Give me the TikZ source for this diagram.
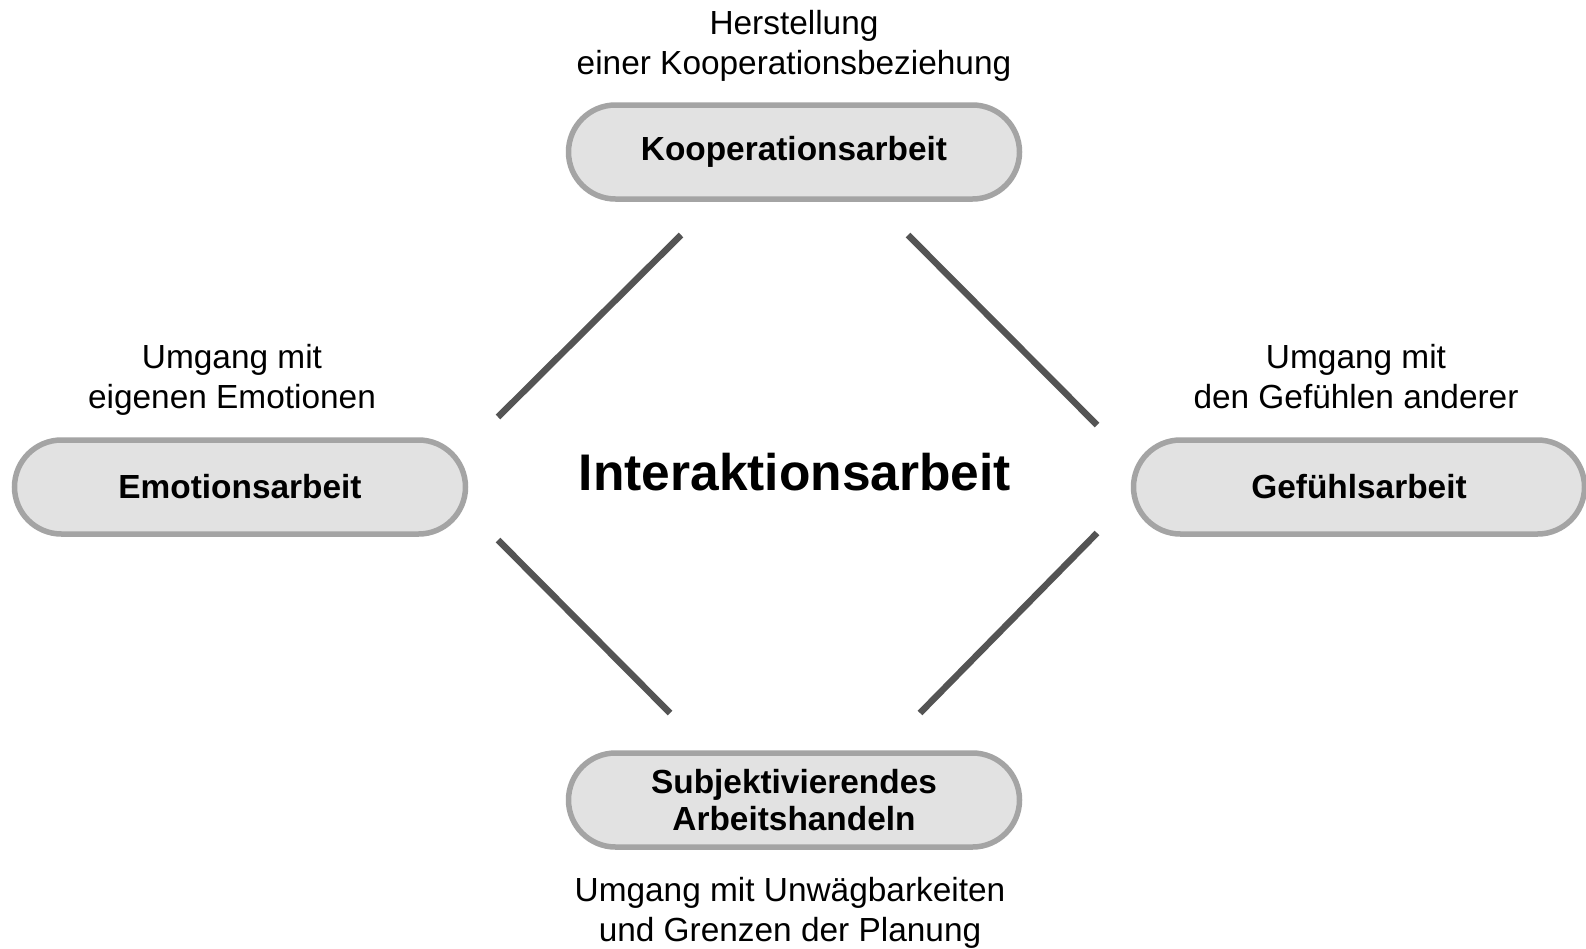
\documentclass[tikz,border=0pt]{standalone}
\usepackage{fontspec}
\setmainfont{Liberation Sans}
\usetikzlibrary{shapes.misc}
\definecolor{pillfill}{HTML}{E2E2E2}
\definecolor{pillline}{HTML}{A4A4A4}
\definecolor{linegray}{HTML}{545454}
\begin{document}
\begin{tikzpicture}[x=1pt,y=-1pt,
  pill/.style={rounded rectangle, fill=pillfill, draw=pillline, line width=5.5pt,
    minimum width=451pt, minimum height=94pt, align=center, inner sep=0pt,
    font=\fontsize{33.4}{38}\selectfont\bfseries},
  lbl/.style={align=center, inner sep=0pt, font=\fontsize{33.4}{40}\selectfont},
  conn/.style={draw=linegray, line width=6.5pt, line cap=butt}]
\useasboundingbox (0,0) rectangle (1586,948);
\fill[white] (0,0) rectangle (1586,948);

\node[pill] (koop) at (794,152) {Kooperationsarbeit};
\node[pill] (emo) at (240,487) {Emotionsarbeit};
\node[pill] (gef) at (1359,487) {Gefühlsarbeit};
\node[pill] (subj) at (794,800) {Subjektivierendes\\[-1pt]Arbeitshandeln};

\node[lbl] (tkoop) at (794,46) {Herstellung\\einer Kooperationsbeziehung};
\node[lbl] (temo) at (232,380) {Umgang mit\\eigenen Emotionen};
\node[lbl] (tgef) at (1356,377) {Umgang mit\\den Gefühlen anderer};
\node[lbl] (tsubj) at (790,913) {Umgang mit Unwägbarkeiten\\und Grenzen der Planung};

\node[inner sep=0pt, font=\fontsize{51.5}{60}\selectfont\bfseries] (center) at (795,472) {Interaktionsarbeit};

\coordinate (a1) at (498,417); \coordinate (a2) at (681,235);
\coordinate (b1) at (908,235); \coordinate (b2) at (1097,425);
\coordinate (c1) at (498,540); \coordinate (c2) at (670,713);
\coordinate (d1) at (1097,533); \coordinate (d2) at (920,713);
\draw[conn] (a1) -- (a2);
\draw[conn] (b1) -- (b2);
\draw[conn] (c1) -- (c2);
\draw[conn] (d1) -- (d2);
\end{tikzpicture}
\end{document}
